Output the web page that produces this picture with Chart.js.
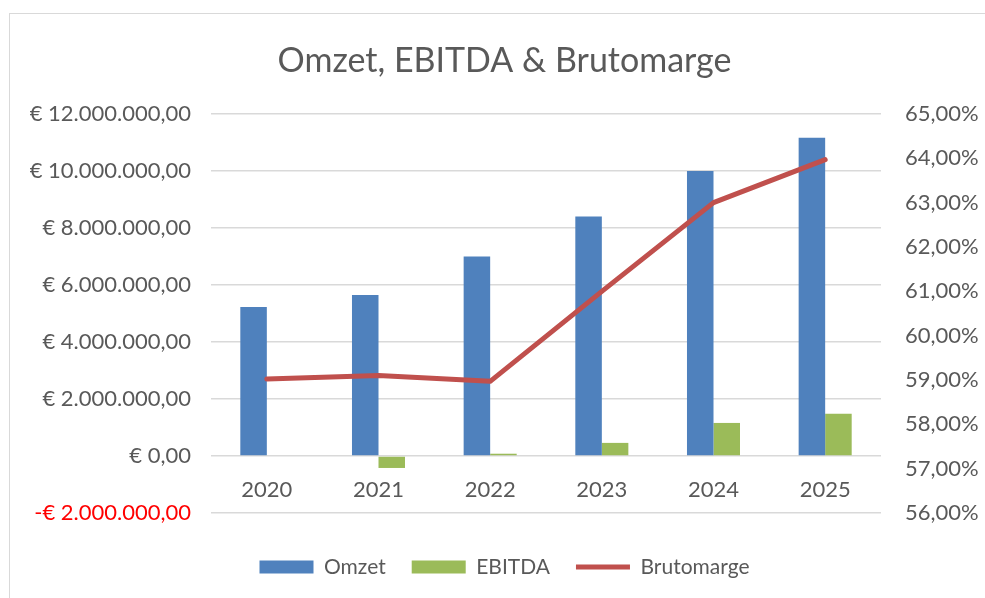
<!DOCTYPE html>
<html>
<head>
<meta charset="utf-8">
<script src="https://cdn.jsdelivr.net/npm/chart.js@4.4.0/dist/chart.umd.min.js"></script>
<style>
html,body{margin:0;padding:0;background:#fff;overflow:hidden;}
#wrap{position:absolute;left:0;top:0;width:985px;height:598px;}
#frame{position:absolute;left:9px;top:13px;width:1100px;height:800px;border:1px solid #d9d9d9;box-sizing:border-box;}
canvas{position:absolute;left:0;top:0;}
</style>
</head>
<body>
<div id="wrap">
<div id="frame"></div>
<canvas id="c" width="985" height="598"></canvas>
</div>
<script>
const categories = ["2020", "2021", "2022", "2023", "2024", "2025"];
const omzet = [5230000, 5650000, 7000000, 8400000, 10000000, 11170000];
const ebitda = [0, -420000, 80000, 460000, 1160000, 1480000];
const brutomarge = [59.02, 59.1, 58.97, 61.0, 63.0, 63.97];
const seriesNames = ["Omzet", "EBITDA", "Brutomarge"];
const titleText = "Omzet, EBITDA & Brutomarge";

const TEXT = "#595959";
const FONT = "Lato, 'Open Sans', sans-serif";

function euro(v) {
  const neg = v < 0;
  const s = Math.abs(v).toFixed(2).split(".");
  const intPart = s[0].replace(/\B(?=(\d{3})+(?!\d))/g, ".");
  return (neg ? "-" : "") + "€ " + intPart + "," + s[1];
}

new Chart(document.getElementById("c"), {
  data: {
    labels: categories,
    datasets: [
      { type: "bar", label: seriesNames[0], data: omzet, backgroundColor: "#4F81BD", yAxisID: "y", order: 1, pointStyle: "rect", borderWidth: 0 },
      { type: "bar", label: seriesNames[1], data: ebitda, backgroundColor: "#9BBB59", yAxisID: "y", order: 1, pointStyle: "rect", borderWidth: 0 },
      { type: "line", label: seriesNames[2], data: brutomarge, borderColor: "#C0504D", backgroundColor: "#C0504D", borderWidth: 5, pointRadius: 0, borderCapStyle: "round", borderJoinStyle: "round", yAxisID: "y1", order: 0, pointStyle: "line", tension: 0 }
    ]
  },
  options: {
    responsive: false,
    animation: false,
    devicePixelRatio: 1,
    layout: { padding: { left: 24, right: 0, top: 0, bottom: 10.5 } },
    datasets: { bar: { barPercentage: 1, categoryPercentage: 0.475 } },
    plugins: {
      tooltip: { enabled: false },
      title: {
        display: true, text: titleText, color: TEXT,
        font: { family: FONT, size: 34, weight: "normal", lineHeight: 1.2 },
        padding: { top: 40.6, bottom: 32.6 }
      },
      legend: {
        position: "bottom",
        labels: {
          color: TEXT,
          font: { family: FONT, size: 21 },
          usePointStyle: true,
          pointStyleWidth: 54,
          boxWidth: 54,
          boxHeight: 13,
          padding: 26,
          sort: (a, b) => a.datasetIndex - b.datasetIndex
        }
      }
    },
    scales: {
      x: {
        position: { y: 0 },
        grid: { display: false, drawTicks: false },
        border: { display: false },
        ticks: { color: TEXT, font: { family: FONT, size: 22 }, padding: 21 }
      },
      xspace: {
        type: "category",
        position: "bottom",
        grid: { display: false, drawTicks: false },
        border: { display: false },
        ticks: { display: false },
        afterFit: (s) => { s.height = 17.5; }
      },
      y: {
        position: "left",
        min: -2000000, max: 12000000,
        grid: { color: "#d9d9d9", lineWidth: 1.5, drawTicks: false },
        border: { display: false },
        ticks: {
          stepSize: 2000000,
          padding: 20,
          font: { family: FONT, size: 22 },
          color: (ctx) => (ctx.tick && ctx.tick.value < 0 ? "#FF0000" : TEXT),
          callback: (v) => euro(v)
        },
        afterFit: (s) => { s.width = 187; }
      },
      y1: {
        position: "right",
        min: 56, max: 65,
        grid: { display: false, drawTicks: false },
        border: { display: false },
        ticks: {
          stepSize: 1,
          padding: 24,
          font: { family: FONT, size: 22 },
          color: TEXT,
          callback: (v) => v.toFixed(2).replace(".", ",") + "%"
        },
        afterFit: (s) => { s.width = 104; }
      }
    }
  }
});
</script>
</body>
</html>
